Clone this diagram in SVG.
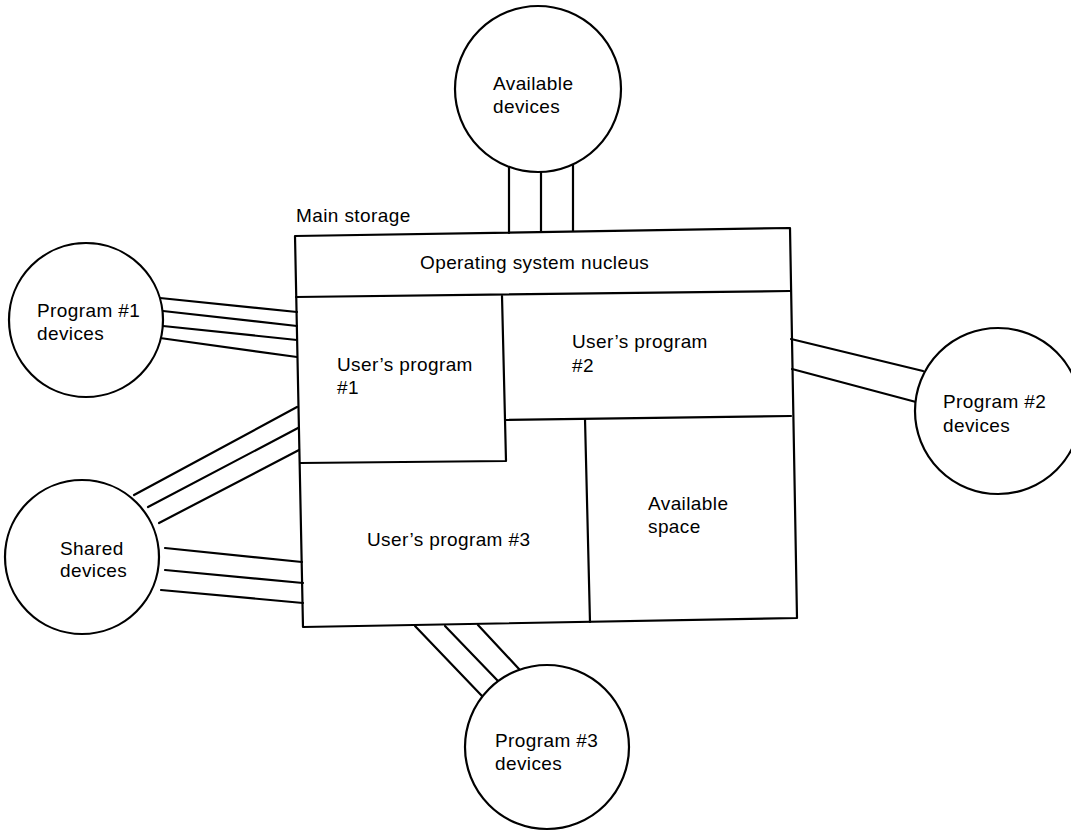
<svg xmlns="http://www.w3.org/2000/svg" width="1071" height="831" viewBox="0 0 1071 831">
  <style>
    .ln { fill: none; stroke: #000; stroke-width: 2.2; stroke-linecap: round; stroke-linejoin: round; }
    .dev { fill: #fff; stroke: #000; stroke-width: 2.2; }
    text { font-family: "Liberation Sans", Arial, sans-serif; font-size: 19px; letter-spacing: 0.4px; fill: #000; }
  </style>
  <rect width="1071" height="831" fill="#fff"/>

  <!-- channel connectors between device pools and main storage -->
  <g id="connectors" class="ln">
    <!-- available devices -->
    <line x1="509" y1="166" x2="509" y2="233"/>
    <line x1="541" y1="171" x2="541" y2="232"/>
    <line x1="573" y1="165" x2="573" y2="231"/>
    <!-- program 1 devices -->
    <line x1="160" y1="298" x2="297" y2="312"/>
    <line x1="163" y1="311" x2="297" y2="326"/>
    <line x1="163" y1="326" x2="297" y2="340"/>
    <line x1="160" y1="338" x2="297" y2="357"/>
    <!-- shared devices, upper group -->
    <line x1="134" y1="495" x2="297" y2="407"/>
    <line x1="148" y1="507" x2="298" y2="428"/>
    <line x1="159" y1="523" x2="299" y2="450"/>
    <!-- shared devices, lower group -->
    <line x1="165" y1="548" x2="302" y2="562"/>
    <line x1="165" y1="570" x2="303" y2="583"/>
    <line x1="161" y1="590" x2="303" y2="603"/>
    <!-- program 2 devices -->
    <line x1="791" y1="339" x2="923" y2="371"/>
    <line x1="792" y1="369" x2="916" y2="402"/>
    <!-- program 3 devices -->
    <line x1="415" y1="626" x2="482" y2="696"/>
    <line x1="445" y1="626" x2="498" y2="681"/>
    <line x1="478" y1="625" x2="519" y2="669"/>
  </g>

  <!-- main storage block with its partitions -->
  <g id="main-storage">
    <text x="296" y="222">Main storage</text>
    <polygon class="ln" points="295,236 790,228 797,618 303,627"/>
    <g id="nucleus">
      <line class="ln" x1="296" y1="297" x2="790" y2="291"/>
      <text x="420" y="269">Operating system nucleus</text>
    </g>
    <g id="user-program-1">
      <polyline class="ln" points="502,296 506,461 300,463"/>
      <text x="337" y="371">User’s program</text>
      <text x="337" y="394">#1</text>
    </g>
    <g id="user-program-2">
      <line class="ln" x1="505" y1="420" x2="791" y2="416"/>
      <text x="572" y="348">User’s program</text>
      <text x="572" y="372">#2</text>
    </g>
    <g id="user-program-3">
      <text x="367" y="546">User’s program #3</text>
    </g>
    <g id="available-space">
      <line class="ln" x1="585" y1="419" x2="590" y2="622"/>
      <text x="648" y="510">Available</text>
      <text x="648" y="533">space</text>
    </g>
  </g>

  <!-- device pools -->
  <g id="available-devices">
    <circle class="dev" cx="538" cy="89" r="83"/>
    <text x="493" y="90">Available</text>
    <text x="493" y="113">devices</text>
  </g>
  <g id="program-1-devices">
    <circle class="dev" cx="86" cy="320" r="77"/>
    <text x="37" y="317">Program #1</text>
    <text x="37" y="340">devices</text>
  </g>
  <g id="shared-devices">
    <circle class="dev" cx="82" cy="557" r="77"/>
    <text x="60" y="555">Shared</text>
    <text x="60" y="577">devices</text>
  </g>
  <g id="program-2-devices">
    <circle class="dev" cx="998" cy="411" r="83"/>
    <text x="943" y="408">Program #2</text>
    <text x="943" y="432">devices</text>
  </g>
  <g id="program-3-devices">
    <circle class="dev" cx="547" cy="747" r="82"/>
    <text x="495" y="747">Program #3</text>
    <text x="495" y="770">devices</text>
  </g>
</svg>
